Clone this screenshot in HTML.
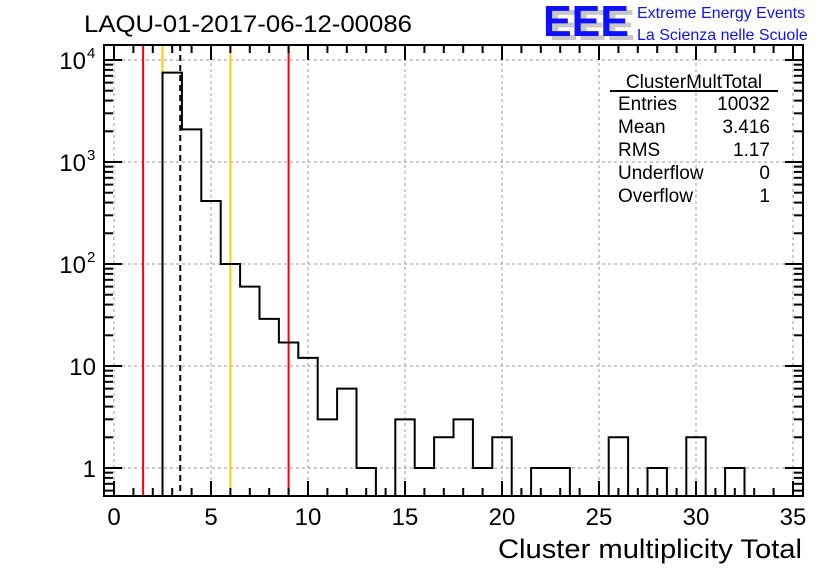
<!DOCTYPE html>
<html><head><meta charset="utf-8"><style>
body{margin:0;background:#fff;}
svg{display:block;font-family:"Liberation Sans",sans-serif;}
</style></head><body>
<svg id="c" width="836" height="572" viewBox="0 0 836 572">
<rect width="836" height="572" fill="#fff"/>
<text x="84" y="32" font-size="24" textLength="328" lengthAdjust="spacingAndGlyphs">LAQU-01-2017-06-12-00086</text>
<g>
<text x="549" y="40" font-size="44" font-weight="bold" fill="#c8c8c8" textLength="86" lengthAdjust="spacingAndGlyphs">EEE</text>
<text x="543" y="36" font-size="44" font-weight="bold" fill="#1010ff" textLength="86" lengthAdjust="spacingAndGlyphs">EEE</text>
<text x="637" y="18" font-size="16" fill="#1010ff">Extreme Energy Events</text>
<text x="637" y="40" font-size="16" fill="#1010ff">La Scienza nelle Scuole</text>
</g>
<g id="grid"></g>
<g id="marks"></g>
<g id="stats" font-size="19">
<text x="694" y="88" text-anchor="middle">ClusterMultTotal</text>
<line x1="610" y1="91" x2="778" y2="91" stroke="#000" stroke-width="2"/>
<text x="618" y="110">Entries</text><text x="770" y="110" text-anchor="end">10032</text>
<text x="618" y="133">Mean</text><text x="770" y="133" text-anchor="end">3.416</text>
<text x="618" y="156">RMS</text><text x="770" y="156" text-anchor="end">1.17</text>
<text x="618" y="179">Underflow</text><text x="770" y="179" text-anchor="end">0</text>
<text x="618" y="202">Overflow</text><text x="770" y="202" text-anchor="end">1</text>
</g>
<g id="axes"></g>
<text x="498" y="558" font-size="27" textLength="304" lengthAdjust="spacingAndGlyphs">Cluster multiplicity Total</text>
</svg>
<script>
const binCenters=[0,1,2,3,4,5,6,7,8,9,10,11,12,13,14,15,16,17,18,19,20,21,22,23,24,25,26,27,28,29,30,31,32,33,34,35];
const counts=[0,0,0,7520,2090,415,100,60,29,17,12,3,6,1,0,3,1,2,3,1,2,0,1,1,0,0,2,0,1,0,2,0,1,0,0,0];
const xTicks=[0,5,10,15,20,25,30,35];
const yDecades=[1,10,100,1000,10000];
const yBase=["1","10","10","10","10"];
const yExp=["","","2","3","4"];
const redLines=[1.5,9];
const yellowLines=[2.5,6];
const meanLine=[3.416];
const L=104,R=803,T=45,B=496;
const X=v=>114+v*19.4;
const Y=v=>60+(4-Math.log10(v))*102;
const NS="http://www.w3.org/2000/svg";
function mk(p,t,a){const e=document.createElementNS(NS,t);for(const k in a)e.setAttribute(k,a[k]);p.appendChild(e);return e;}
const grid=document.getElementById('grid'),marks=document.getElementById('marks'),axes=document.getElementById('axes');
xTicks.forEach(t=>{const e=mk(grid,'line',{x1:X(t),x2:X(t),y1:T,y2:B,stroke:'#999','stroke-dasharray':'3,3'});

});
yDecades.forEach(t=>{const e=mk(grid,'line',{x1:L,x2:R,y1:Y(t),y2:Y(t),stroke:'#999','stroke-dasharray':'3,3'});

});
redLines.forEach(v=>{const e=mk(marks,'line',{x1:X(v),x2:X(v),y1:T,y2:B,stroke:'#ff0000','stroke-width':2});

});
yellowLines.forEach(v=>{const e=mk(marks,'line',{x1:X(v),x2:X(v),y1:T,y2:B,stroke:'#ffcc00','stroke-width':2});

});
meanLine.forEach(v=>{const e=mk(marks,'line',{x1:X(v),x2:X(v),y1:T,y2:B,stroke:'#000','stroke-width':2,'stroke-dasharray':'6,4'});

});
let d='';
binCenters.forEach((c,i)=>{const y=counts[i]>0?Y(counts[i]):B;const x0=X(c-0.5),x1=X(c+0.5);
if(i===0)d+=`M${Math.max(x0,L)},${y}`;else d+=`L${x0},${y}`;d+=`L${Math.min(x1,R)},${y}`;});
const h=mk(marks,'path',{d:d,fill:'none',stroke:'#000','stroke-width':2});


const f=mk(axes,'rect',{x:L,y:T,width:R-L,height:B-T,fill:'none',stroke:'#000','stroke-width':2});


for(let v=0;v<=35;v++){const len=v%5===0?15:8;
mk(axes,'line',{x1:X(v),x2:X(v),y1:B,y2:B-len,stroke:'#000','stroke-width':2});
mk(axes,'line',{x1:X(v),x2:X(v),y1:T,y2:T+len,stroke:'#000','stroke-width':2});}
xTicks.forEach(t=>{const e=mk(axes,'text',{x:X(t),y:525,'font-size':24,'text-anchor':'middle'});e.textContent=t;

});
for(let dcd=-1;dcd<=4;dcd++){for(let m=1;m<10;m++){const v=m*Math.pow(10,dcd);const y=Y(v);if(y<T||y>B)continue;const len=m===1?18:9;
mk(axes,'line',{x1:L,x2:L+len,y1:y,y2:y,stroke:'#000','stroke-width':2});
mk(axes,'line',{x1:R,x2:R-len,y1:y,y2:y,stroke:'#000','stroke-width':2});}}
yDecades.forEach((t,i)=>{const e=mk(axes,'text',{x:yExp[i]?86:96,y:Y(t)+9,'font-size':24,'text-anchor':'end'});e.textContent=yBase[i];


if(yExp[i]){const s=mk(axes,'text',{x:87,y:Y(t)-2,'font-size':15});s.textContent=yExp[i];

}});
</script>
</body></html>
